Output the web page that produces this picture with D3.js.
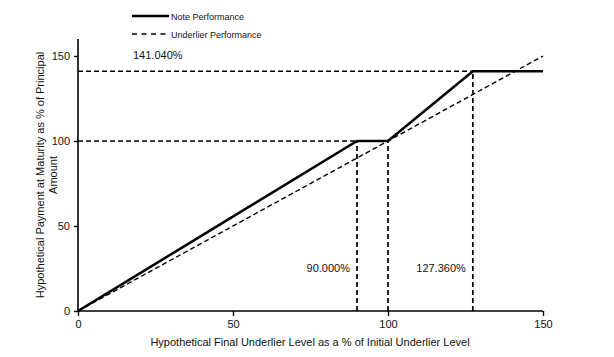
<!DOCTYPE html>
<html><head><meta charset="utf-8">
<script src="https://cdn.jsdelivr.net/npm/d3@7/dist/d3.min.js"></script>
<style>body{margin:0;background:#fff}svg{display:block;font-family:"Liberation Sans",Arial,sans-serif}</style>
</head><body>
<svg id="c" width="614" height="357"></svg>
<script>
const noteX = [0, 90, 100, 127.36, 150];
const noteY = [0, 100, 100, 141.04, 141.04];
const underX = [0, 150];
const underY = [0, 150];
const xTicks = [0, 50, 100, 150];
const yTicks = [0, 50, 100, 150];
const markers = [
  {x: 90, y: 100, label: "90.000%"},
  {x: 100, y: 100, label: null},
  {x: 127.36, y: 141.04, label: "127.360%"}
];
const capLabel = "141.040%";
const seriesNames = ["Note Performance", "Underlier Performance"];

const svg = d3.select("#c");
const x = d3.scaleLinear().domain([0,150]).range([78,543]);
const y = d3.scaleLinear().domain([0,160]).range([311,39]);

// guide lines
const g = svg.append("g").attr("stroke","#000").attr("stroke-width",1.7).attr("stroke-dasharray","5,3").attr("fill","none");
g.append("line").attr("x1",x(0)).attr("x2",x(90)).attr("y1",y(100)).attr("y2",y(100));
g.append("line").attr("x1",x(0)).attr("x2",x(127.36)).attr("y1",y(141.04)).attr("y2",y(141.04));
markers.forEach(m=>{
  g.append("line").attr("x1",x(m.x)).attr("x2",x(m.x)).attr("y1",y(0)).attr("y2",y(m.y));
});

// underlier
const line = d3.line().x(d=>x(d[0])).y(d=>y(d[1]));
svg.append("path").datum(underX.map((v,i)=>[v,underY[i]])).attr("d",line)
  .attr("fill","none").attr("stroke","#000").attr("stroke-width",1.4).attr("stroke-dasharray","5,3");
// note
svg.append("path").datum(noteX.map((v,i)=>[v,noteY[i]])).attr("d",line)
  .attr("fill","none").attr("stroke","#000").attr("stroke-width",2.6).attr("stroke-linejoin","miter");

// axes
const xa = svg.append("g").attr("transform",`translate(0,${y(0)})`)
  .call(d3.axisBottom(x).tickValues(xTicks).tickSize(5).tickPadding(4));
const ya = svg.append("g").attr("transform",`translate(${x(0)},0)`)
  .call(d3.axisLeft(y).tickValues(yTicks).tickSize(4).tickPadding(4));
[xa,ya].forEach(a=>{
  a.select(".domain").attr("stroke","#000").attr("stroke-width",1.6);
  a.selectAll(".tick line").attr("stroke","#000").attr("stroke-width",1.4);
  a.selectAll("text").attr("font-size",11).attr("fill","#111").attr("font-family","Liberation Sans, Arial, sans-serif");
});
ya.select(".domain").attr("d",`M-0,${y(0)}V${y(160)}`);
xa.select(".domain").attr("d",`M${x(0)},0H${x(150)}`);

// annotations
svg.append("text").attr("x",133).attr("y",59).attr("font-size",11).attr("fill","#111").text(capLabel);
markers.filter(m=>m.label).forEach(m=>{
  svg.append("text").attr("x",x(m.x)-7).attr("y",272).attr("text-anchor","end")
    .attr("font-size",11).attr("fill","#111").text(m.label);
});

// axis titles
svg.append("text").attr("x",310).attr("y",346).attr("text-anchor","middle").attr("font-size",11).attr("fill","#111")
  .text("Hypothetical Final Underlier Level  as a % of Initial Underlier Level");
const yt = svg.append("text").attr("transform","translate(44,175) rotate(-90)").attr("text-anchor","middle").attr("font-size",11).attr("fill","#111");
yt.append("tspan").attr("x",0).attr("dy",0).text("Hypothetical Payment at Maturity as % of Principal");
yt.append("tspan").attr("x",0).attr("dy",13).text("Amount");

// legend
const lg = svg.append("g");
lg.append("line").attr("x1",132).attr("x2",169).attr("y1",16).attr("y2",16).attr("stroke","#000").attr("stroke-width",2.6);
lg.append("line").attr("x1",132).attr("x2",169).attr("y1",34).attr("y2",34).attr("stroke","#000").attr("stroke-width",1.4).attr("stroke-dasharray","5,4.5");
lg.append("text").attr("x",171).attr("y",19.5).attr("font-size",9).attr("fill","#111").text(seriesNames[0]);
lg.append("text").attr("x",171).attr("y",37.5).attr("font-size",9).attr("fill","#111").text(seriesNames[1]);
</script>
</body></html>
